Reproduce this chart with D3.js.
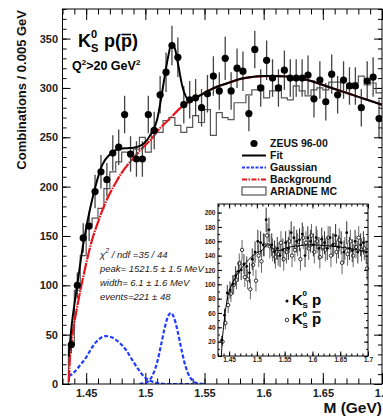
<!DOCTYPE html>
<html>
<head>
<meta charset="utf-8">
<script src="https://cdn.jsdelivr.net/npm/d3@7"></script>
<style>
	body{ margin:0; background:#fff; }
	svg{ display:block; font-family:"Liberation Sans", Arial, sans-serif; }
	.tick text{ font-family:"Liberation Sans", Arial, sans-serif; }
</style>
</head>
<body>
<svg id="chart" width="383" height="419"></svg>
<script>
// bin centres, 5 MeV bins
var massBins = [1.4375,1.4425,1.4475,1.4525,1.4575,1.4625,1.4675,1.4725,1.4775,1.4825,
	1.4875,1.4925,1.4975,1.5025,1.5075,1.5125,1.5175,1.5225,1.5275,1.5325,
	1.5375,1.5425,1.5475,1.5525,1.5575,1.5625,1.5675,1.5725,1.5775,1.5825,
	1.5875,1.5925,1.5975,1.6025,1.6075,1.6125,1.6175,1.6225,1.6275,1.6325,
	1.6375,1.6425,1.6475,1.6525,1.6575,1.6625,1.6675,1.6725,1.6775,1.6825,
	1.6875,1.6925,1.6975];

var zeusCounts = [40,100,148,160,195,215,207,234,240,273,
	233,228,228,273,257,293,316,343,331,283,
	288,290,280,294,312,297,330,297,320,317,
	274,339,300,328,310,300,318,310,310,310,
	313,289,308,286,314,293,308,302,302,280,
	307,311,269];
var zeusErrors = [9,13,15,15,17,17,17,18,18,19,
	18,18,18,19,19,19,20,20,20,19,
	19,19,19,19,20,19,22,19,20,20,
	18,19,19,20,19,19,20,19,19,19,
	20,19,19,19,20,19,19,19,19,19,
	20,20,19];
var mcCounts = [40,95,130,162,168,178,198,215,225,235,
	232,238,250,235,258,255,267,270,262,255,
	260,272,265,278,252,275,270,268,285,285,
	293,298,302,290,297,302,290,288,302,297,
	292,298,300,298,306,306,296,300,305,312,
	303,305,295];

var fitMass = [1.4353,1.438,1.440,1.443,1.447,1.452,1.458,1.4636,1.4706,1.479,
	1.485,1.490,1.495,1.499,1.505,1.510,1.513,1.516,1.519,1.5223,
	1.525,1.528,1.531,1.534,1.537,1.540,1.547,1.550,1.560,1.570,
	1.580,1.590,1.600,1.610,1.620,1.630,1.640,1.650,1.660,1.670,
	1.680,1.690,1.700];
var fitValues = [28,62,80,105,138,170,201,222,233.5,238.5,
	239,239.5,241,244,254,268,287,309,330,345,
	340,322,303,292,288,289,293,295,301,305,
	309,311,312,312,311.5,310,307,303,299,295,
	291,287,283];

var bgMass = [1.4353,1.436,1.438,1.440,1.443,1.446,1.450,1.455,1.460,1.465,
	1.470,1.475,1.480,1.485,1.490,1.495,1.500,1.505,1.510,1.520,
	1.530,1.540,1.550,1.560,1.570,1.580,1.590,1.600,1.610,1.620,
	1.630,1.640,1.650,1.660,1.670,1.680,1.690,1.700];
var bgValues = [2,20,46,62,82,100,122,146,164,180,
	193,204,214,222,229,236,242,248,256,268,
	280,288,295,301,305,309,311,312,312,311.5,
	310,307,303,299,295,291,287,283];

var gausLowMass = [1.4353,1.440,1.4438,1.450,1.455,1.460,1.4664,1.472,1.478,1.484,
	1.489,1.494,1.499,1.506,1.512,1.518,1.530,1.540];
var gausLowValues = [8,12,17.5,27,37,44.5,48.6,47,42,34,
	24.3,15,7.4,2.4,0.5,0,0,0];

var gausPeakMass = [1.495,1.500,1.505,1.510,1.513,1.516,1.519,1.5215,1.524,1.527,
	1.530,1.533,1.536,1.540,1.545,1.550];
var gausPeakValues = [0,1.2,6.4,22,37.9,55,68,72,68,55,
	37.9,22,11.1,3.4,0.5,0];

// inset: K0s p and K0s pbar separately
var kpCounts = [22,57,88,92,100,112,118,120,128,125,
	116,135,145,160,158,155,190,176,155,145,
	150,140,148,158,150,172,165,160,162,170,
	140,165,160,155,165,150,163,158,150,165,
	155,168,152,158,145,172,150,147,160,145,
	155,158,145];
var kpbarCounts = [20,46,71,87,99,106,129,148,110,107,
	93,127,105,140,132,155,168,153,148,138,
	142,158,135,145,160,140,148,155,135,165,
	158,150,168,145,160,138,152,148,165,140,
	155,145,162,130,150,142,160,140,152,165,
	148,150,122];
var insetErrors = [6,9,11,12,13,13,14,14,14,14,
	14,15,15,16,16,16,17,17,16,16,
	16,16,16,16,16,16,16,16,16,16,
	16,16,16,16,16,16,16,16,16,16,
	16,16,16,16,16,16,16,16,16,16,
	16,16,16];
var insetFitMass = [1.436,1.4375,1.440,1.445,1.450,1.455,1.460,1.470,1.480,1.490,
	1.500,1.510,1.515,1.520,1.525,1.530,1.540,1.550,1.575,1.600,
	1.625,1.650,1.675,1.700];
var insetFitValues = [0,20,40,72,90,100,108,120,130,138,
	144,148,152,157,152,148,147,150,154,155,
	154,152,149,145];

var xMajorTicks = [1.45, 1.5, 1.55, 1.6, 1.65, 1.7];
var yMajorTicks = [0, 50, 100, 150, 200, 250, 300, 350];
var insetYTicks = [0, 20, 40, 60, 80, 100, 120, 140, 160, 180, 200];
var legendLabels = ["ZEUS 96-00", "Fit", "Gaussian", "Background", "ARIADNE MC"];
var statLines = ["\u03c7", "peak= 1521.5 \u00b1 1.5 MeV", "width=    6.1 \u00b1 1.6 MeV", "events=221 \u00b1 48"];

(function(){
	'use strict';

	var svg = d3.select("#chart");
	var binHalf = 0.0025;

	makeMainPlot();
	makeInset();

	function addAxis(parent, axisFn, scale, transform, majors, minors, majLen, minLen, pad, fmt){
		var gm = parent.append("g").attr("transform", transform)
			.call(axisFn(scale).tickValues(minors).tickSize(-minLen).tickFormat(""));
		gm.select(".domain").remove();
		var g = parent.append("g").attr("transform", transform)
			.call(axisFn(scale).tickValues(majors).tickSize(-majLen).tickPadding(pad).tickFormat(fmt));
		g.select(".domain").remove();
		parent.selectAll(".tick line").attr("stroke", "#000").attr("stroke-width", 1);
		return g;
	}

	function makeMainPlot(){
		var fr = {left: 62.5, right: 382, top: 9, bottom: 384};
		var x = d3.scaleLinear().domain([1.43, 1.70]).range([fr.left, fr.right]);
		var y = d3.scaleLinear().domain([0, 380]).range([fr.bottom, fr.top]);

		var g = svg.append("g");
		svg.append("clipPath").attr("id", "mainclip")
			.append("rect").attr("x", fr.left).attr("y", fr.top)
			.attr("width", fr.right - fr.left).attr("height", fr.bottom - fr.top);

		var xMinor = d3.range(1.43, 1.7001, 0.01);
		var yMinor = d3.range(0, 381, 10);

		var bx = addAxis(g, d3.axisBottom, x, "translate(0," + fr.bottom + ")", xMajorTicks, xMinor, 11, 5.5, 5, function(d){ return d3.format("")(+d.toFixed(2)); });
		addAxis(g, d3.axisTop, x, "translate(0," + fr.top + ")", xMajorTicks, xMinor, 11, 5.5, 3, "");
		var ly = addAxis(g, d3.axisLeft, y, "translate(" + fr.left + ",0)", yMajorTicks, yMinor, 8, 4, 4.5, d3.format("d"));
		addAxis(g, d3.axisRight, y, "translate(" + fr.right + ",0)", yMajorTicks, yMinor, 8, 4, 3, "");

		bx.selectAll("text").style("font", "bold 11px 'Liberation Sans', Arial, sans-serif").attr("fill", "#222");
		ly.selectAll("text").style("font", "bold 11px 'Liberation Sans', Arial, sans-serif").attr("fill", "#222");

		var plot = g.append("g").attr("clip-path", "url(#mainclip)");

		// MC histogram as steps
		var edges = massBins.map(function(m, i){ return [m - binHalf, mcCounts[i]]; });
		edges.unshift([massBins[0] - binHalf, 0]);
		edges.push([massBins[massBins.length - 1] + binHalf, mcCounts[mcCounts.length - 1]]);
		plot.append("path")
			.attr("d", d3.line().x(function(d){ return x(d[0]); }).y(function(d){ return y(d[1]); }).curve(d3.curveStepAfter)(edges))
			.attr("fill", "none").attr("stroke", "#555").attr("stroke-width", 1.2);

		var smooth = d3.line()
			.x(function(d){ return x(d[0]); })
			.y(function(d){ return y(d[1]); })
			.curve(d3.curveMonotoneX);

		function pairs(ms, vs){ return ms.map(function(m, i){ return [m, vs[i]]; }); }

		plot.append("path").attr("d", smooth(pairs(gausLowMass, gausLowValues)))
			.attr("fill", "none").attr("stroke", "#1f3cff").attr("stroke-width", 2.2).attr("stroke-dasharray", "4,2");
		plot.append("path").attr("d", smooth(pairs(gausPeakMass, gausPeakValues)))
			.attr("fill", "none").attr("stroke", "#1f3cff").attr("stroke-width", 2.2).attr("stroke-dasharray", "4,2");
		plot.append("path").attr("d", smooth(pairs(bgMass, bgValues)))
			.attr("fill", "none").attr("stroke", "#e8141c").attr("stroke-width", 2.2).attr("stroke-dasharray", "12,1,1.5,1");

		// data
		var pts = plot.selectAll(".pt").data(massBins).enter().append("g").attr("class", "pt");
		pts.append("line")
			.attr("x1", function(d){ return x(d); }).attr("x2", function(d){ return x(d); })
			.attr("y1", function(d, i){ return y(zeusCounts[i] - zeusErrors[i]); })
			.attr("y2", function(d, i){ return y(zeusCounts[i] + zeusErrors[i]); })
			.attr("stroke", "#444").attr("stroke-width", 1.3);
		pts.append("circle")
			.attr("cx", function(d){ return x(d); })
			.attr("cy", function(d, i){ return y(zeusCounts[i]); })
			.attr("r", 3.6).attr("fill", "#000");

		plot.append("path").attr("d", smooth(pairs(fitMass, fitValues)))
			.attr("fill", "none").attr("stroke", "#000").attr("stroke-width", 2);

		g.append("rect").attr("x", fr.left).attr("y", fr.top)
			.attr("width", fr.right - fr.left).attr("height", fr.bottom - fr.top)
			.attr("fill", "none").attr("stroke", "#000").attr("stroke-width", 1);

		// axis titles
		svg.append("text").attr("transform", "translate(26,10) rotate(-90)")
			.attr("text-anchor", "end").style("font", "bold 13px 'Liberation Sans', Arial, sans-serif")
			.attr("fill", "#111").text("Combinations / 0.005 GeV");
		svg.append("text").attr("x", 382).attr("y", 413).attr("text-anchor", "end")
			.style("font", "bold 15.5px 'Liberation Sans', Arial, sans-serif").attr("fill", "#111").text("M (GeV)");

		// title K0s p(pbar)
		var big = "bold 18px 'Liberation Sans', Arial, sans-serif";
		var small = "bold 11px 'Liberation Sans', Arial, sans-serif";
		svg.append("text").attr("x", 78).attr("y", 47).style("font", big).text("K");
		svg.append("text").attr("x", 91).attr("y", 38).style("font", small).text("0");
		svg.append("text").attr("x", 91).attr("y", 52).style("font", small).text("S");
		svg.append("text").attr("x", 104).attr("y", 47).style("font", big).text("p(p)");
		svg.append("line").attr("x1", 121.5).attr("x2", 131).attr("y1", 34.5).attr("y2", 34.5)
			.attr("stroke", "#000").attr("stroke-width", 1.6);

		var q = svg.append("text").attr("x", 72).attr("y", 70).style("font", "bold 12.5px 'Liberation Sans', Arial, sans-serif");
		q.append("tspan").text("Q");
		q.append("tspan").attr("dy", -5.5).style("font-size", "8px").text("2");
		q.append("tspan").attr("dy", 5.5).text(">20 GeV");
		q.append("tspan").attr("dy", -5.5).style("font-size", "8px").text("2");

		// legend
		var lx0 = 242, lx1 = 266, tx = 270;
		var rows = [147, 159, 171, 183, 195];
		var leg = svg.append("g").style("font", "bold 10.5px 'Liberation Sans', Arial, sans-serif").attr("fill", "#111");
		leg.selectAll("text").data(legendLabels).enter().append("text")
			.attr("x", tx).attr("y", function(d, i){ return rows[i]; }).text(function(d){ return d; });
		leg.append("circle").attr("cx", 254).attr("cy", rows[0] - 3.5).attr("r", 3.6).attr("fill", "#000");
		leg.append("line").attr("x1", lx0).attr("x2", lx1).attr("y1", rows[1] - 3.5).attr("y2", rows[1] - 3.5)
			.attr("stroke", "#000").attr("stroke-width", 2);
		leg.append("line").attr("x1", lx0).attr("x2", lx1).attr("y1", rows[2] - 3.5).attr("y2", rows[2] - 3.5)
			.attr("stroke", "#1f3cff").attr("stroke-width", 2).attr("stroke-dasharray", "3,1.5");
		leg.append("line").attr("x1", lx0).attr("x2", lx1).attr("y1", rows[3] - 3.5).attr("y2", rows[3] - 3.5)
			.attr("stroke", "#e8141c").attr("stroke-width", 2).attr("stroke-dasharray", "5,1.5,1.5,1.5");
		leg.append("rect").attr("x", lx0).attr("y", rows[4] - 8).attr("width", lx1 - lx0).attr("height", 8)
			.attr("fill", "none").attr("stroke", "#333").attr("stroke-width", 1);

		// fit statistics
		var st = svg.append("g").style("font", "italic 9.5px 'Liberation Sans', Arial, sans-serif")
			.attr("fill", "#222").attr("xml:space", "preserve").style("white-space", "pre");
		var chi = st.append("text").attr("x", 100).attr("y", 257.5);
		chi.append("tspan").text(statLines[0]);
		chi.append("tspan").attr("dy", -5).style("font-size", "7px").text("2");
		chi.append("tspan").attr("dy", 5).text(" / ndf =35 / 44");
		st.selectAll(".sl").data(statLines.slice(1)).enter().append("text").attr("class", "sl")
			.attr("x", 100).attr("y", function(d, i){ return 271.5 + i * 14; })
			.text(function(d){ return d; });
	}

	function makeInset(){
		var fr = {left: 218, right: 368, top: 204, bottom: 356};
		var x = d3.scaleLinear().domain([1.43, 1.70]).range([fr.left, fr.right]);
		var y = d3.scaleLinear().domain([0, 212]).range([fr.bottom, fr.top]);
		var g = svg.append("g");

		g.append("rect").attr("x", fr.left).attr("y", fr.top)
			.attr("width", fr.right - fr.left).attr("height", fr.bottom - fr.top)
			.attr("fill", "#fff").attr("stroke", "none");

		var xMinor = d3.range(1.43, 1.7001, 0.01);
		var yMinor = d3.range(0, 212, 10);
		var bx = addAxis(g, d3.axisBottom, x, "translate(0," + fr.bottom + ")", xMajorTicks, xMinor, 4.5, 2.5, 1.5, function(d){ return d3.format("")(+d.toFixed(2)); });
		addAxis(g, d3.axisTop, x, "translate(0," + fr.top + ")", xMajorTicks, xMinor, 4.5, 2.5, 1, "");
		var ly = addAxis(g, d3.axisLeft, y, "translate(" + fr.left + ",0)", insetYTicks, yMinor, 4, 2, 2.5, d3.format("d"));
		addAxis(g, d3.axisRight, y, "translate(" + fr.right + ",0)", insetYTicks, yMinor, 4, 2, 1, "");
		bx.selectAll("text").style("font", "bold 6.5px 'Liberation Sans', Arial, sans-serif").attr("fill", "#222");
		ly.selectAll("text").style("font", "bold 6.5px 'Liberation Sans', Arial, sans-serif").attr("fill", "#222");

		var plot = g.append("g");
		var off = 0.0008;
		var a = plot.selectAll(".pb").data(massBins).enter().append("g").attr("class", "pb");
		a.append("line")
			.attr("x1", function(d){ return x(d + off); }).attr("x2", function(d){ return x(d + off); })
			.attr("y1", function(d, i){ return y(Math.max(0, kpbarCounts[i] - insetErrors[i])); })
			.attr("y2", function(d, i){ return y(kpbarCounts[i] + insetErrors[i]); })
			.attr("stroke", "#666").attr("stroke-width", 1);
		a.append("circle")
			.attr("cx", function(d){ return x(d + off); })
			.attr("cy", function(d, i){ return y(kpbarCounts[i]); })
			.attr("r", 1.7).attr("fill", "#fff").attr("stroke", "#000").attr("stroke-width", 0.8);

		var b = plot.selectAll(".pp").data(massBins).enter().append("g").attr("class", "pp");
		b.append("line")
			.attr("x1", function(d){ return x(d - off); }).attr("x2", function(d){ return x(d - off); })
			.attr("y1", function(d, i){ return y(Math.max(0, kpCounts[i] - insetErrors[i])); })
			.attr("y2", function(d, i){ return y(kpCounts[i] + insetErrors[i]); })
			.attr("stroke", "#333").attr("stroke-width", 1);
		b.append("circle")
			.attr("cx", function(d){ return x(d - off); })
			.attr("cy", function(d, i){ return y(kpCounts[i]); })
			.attr("r", 1.4).attr("fill", "#000");

		var line = d3.line()
			.x(function(d, i){ return x(insetFitMass[i]); })
			.y(function(d){ return y(d); })
			.curve(d3.curveMonotoneX);
		plot.append("path").attr("d", line(insetFitValues))
			.attr("fill", "none").attr("stroke", "#000").attr("stroke-width", 1);

		g.append("rect").attr("x", fr.left).attr("y", fr.top)
			.attr("width", fr.right - fr.left).attr("height", fr.bottom - fr.top)
			.attr("fill", "none").attr("stroke", "#000").attr("stroke-width", 1);

		// inset legend
		var big = "bold 15px 'Liberation Sans', Arial, sans-serif";
		var small = "bold 8px 'Liberation Sans', Arial, sans-serif";
		g.append("circle").attr("cx", 287).attr("cy", 301).attr("r", 1.5).attr("fill", "#000");
		g.append("text").attr("x", 292).attr("y", 305).style("font", big).text("K");
		g.append("text").attr("x", 302.5).attr("y", 296).style("font", small).text("0");
		g.append("text").attr("x", 302.5).attr("y", 307.5).style("font", small).text("S");
		g.append("text").attr("x", 312).attr("y", 305).style("font", big).text("p");

		g.append("circle").attr("cx", 287).attr("cy", 320).attr("r", 1.8).attr("fill", "#fff").attr("stroke", "#000").attr("stroke-width", 0.8);
		g.append("text").attr("x", 292).attr("y", 324).style("font", big).text("K");
		g.append("text").attr("x", 302.5).attr("y", 316.5).style("font", small).text("0");
		g.append("text").attr("x", 302.5).attr("y", 327.5).style("font", small).text("S");
		g.append("text").attr("x", 312).attr("y", 324).style("font", big).text("p");
		g.append("line").attr("x1", 312.5).attr("x2", 320.5).attr("y1", 312).attr("y2", 312)
			.attr("stroke", "#000").attr("stroke-width", 1.3);
	}

})();
</script>
</body>
</html>
